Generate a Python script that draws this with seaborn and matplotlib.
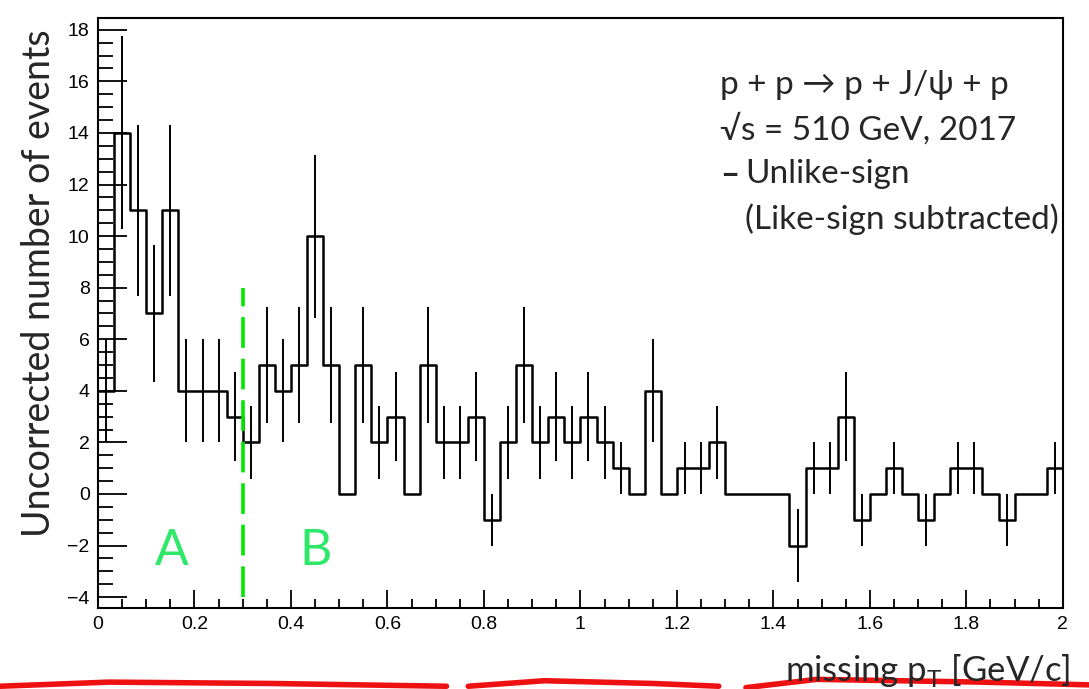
import numpy as np
import pandas as pd
import matplotlib
matplotlib.use("Agg")
import matplotlib.pyplot as plt
import seaborn as sns
from matplotlib.ticker import MultipleLocator, FuncFormatter

# missing pT histogram, 60 bins from 0 to 2 GeV/c (unlike-sign, like-sign subtracted)
x_min, x_max, n_bins = 0.0, 2.0, 60
counts = [4, 14, 11, 7, 11, 4, 4, 4, 3, 2,
          5, 4, 5, 10, 5, 0, 5, 2, 3, 0,
          5, 2, 2, 3, -1, 2, 5, 2, 3, 2,
          3, 2, 1, 0, 4, 0, 1, 1, 2, 0,
          0, 0, 0, -2, 1, 1, 3, -1, 0, 1,
          0, -1, 0, 1, 1, 0, -1, 0, 0, 1]
errors = [2.0, 3.74, 3.32, 2.65, 3.32, 2.0, 2.0, 2.0, 1.73, 1.41,
          2.24, 2.0, 2.24, 3.16, 2.24, 0, 2.24, 1.41, 1.73, 0,
          2.24, 1.41, 1.41, 1.73, 1.0, 1.41, 2.24, 1.41, 1.73, 1.41,
          1.73, 1.41, 1.0, 0, 2.0, 0, 1.0, 1.0, 1.41, 0,
          0, 0, 0, 1.41, 1.0, 1.0, 1.73, 1.0, 0, 1.0,
          0, 1.0, 0, 1.0, 1.0, 0, 1.0, 0, 0, 1.0]
region_cut = 0.3
region_labels = ["A", "B"]
region_label_x = [0.153, 0.45]

edges = np.linspace(x_min, x_max, n_bins + 1)
centers = 0.5 * (edges[:-1] + edges[1:])
df = pd.DataFrame({"pt": centers, "n": counts, "err": errors})

sns.set_style("ticks")
plt.rcParams["font.family"] = ["Liberation Sans", "DejaVu Sans"]
text_font = ["Lato", "DejaVu Sans"]

fig = plt.figure(figsize=(10.89, 6.89), dpi=100)
ax = fig.add_axes([0.090, 0.1176, 0.886, 0.856])

sns.histplot(data=df, x="pt", weights="n", binwidth=(x_max - x_min) / n_bins,
             binrange=(x_min, x_max), element="step", fill=False,
             color="black", linewidth=1.8, ax=ax)
e = df[df["err"] > 0]
ax.errorbar(e["pt"], e["n"], yerr=e["err"], fmt="none",
            ecolor="black", elinewidth=1.4, capsize=0)

# region separator
ax.vlines(region_cut, -4, 8, colors="#00e600", linewidth=2.6, linestyles=(0, (8.5, 3)))
for lab, lx in zip(region_labels, region_label_x):
    ax.text(lx, -2.2, lab, color="#2ee86a", fontsize=36, ha="center", va="center",
            family=text_font)

ax.set_xlim(x_min, x_max)
ax.set_ylim(-4.42, 18.45)
ax.set_xlabel("")
ax.set_ylabel("")
ax.xaxis.set_major_locator(MultipleLocator(0.2))
ax.xaxis.set_minor_locator(MultipleLocator(0.05))
ax.yaxis.set_major_locator(MultipleLocator(2))
ax.yaxis.set_minor_locator(MultipleLocator(0.5))
ax.xaxis.set_major_formatter(FuncFormatter(lambda v, p: "%g" % round(v, 2)))
ax.tick_params(axis="both", which="both", direction="in", top=False, right=False,
               color="black", width=1.3, labelsize=14, labelcolor="black")
ax.tick_params(axis="x", which="major", length=13, pad=6)
ax.tick_params(axis="x", which="minor", length=6.5)
ax.tick_params(axis="y", which="major", length=21, pad=6)
ax.tick_params(axis="y", which="minor", length=10.5)
for s in ax.spines.values():
    s.set_visible(True)
    s.set_color("black")
    s.set_linewidth(1.5)

fig.text(0.036, 0.589, "Uncorrected number of events", rotation=90, ha="center",
         va="center", fontsize=27, family=text_font)
fig.text(0.983, 0.012, r"missing p$_\mathregular{T}$ [GeV/c]", ha="right",
         va="baseline", fontsize=25, family=text_font)

info = ["p + p \u2192 p + J/\u03c8 + p", "\u221as = 510 GeV, 2017"]
for i, line in enumerate(info):
    fig.text(0.661, 0.877 - i * 0.065, line, ha="left", va="center", fontsize=24,
             family=text_font)
fig.text(0.661, 0.747, "\u2013", ha="left", va="center", fontsize=24,
         fontweight="bold", family=text_font)
fig.text(0.684, 0.747, "Unlike-sign", ha="left", va="center", fontsize=24,
         family=text_font)
fig.text(0.684, 0.682, "(Like-sign subtracted)", ha="left", va="center", fontsize=24,
         family=text_font)

# red pen strokes along the bottom edge
for xs, ys in [([0.0, 0.1, 0.25, 0.41], [0.004, 0.010, 0.008, 0.004]),
               ([0.43, 0.5, 0.6, 0.66], [0.004, 0.012, 0.008, 0.004]),
               ([0.685, 0.75, 0.9, 1.0], [0.002, 0.014, 0.010, 0.006])]:
    fig.add_artist(plt.Line2D(xs, ys, color="#ee1111", linewidth=4,
                              transform=fig.transFigure, solid_capstyle="round"))

fig.savefig("out.png", dpi=100)
